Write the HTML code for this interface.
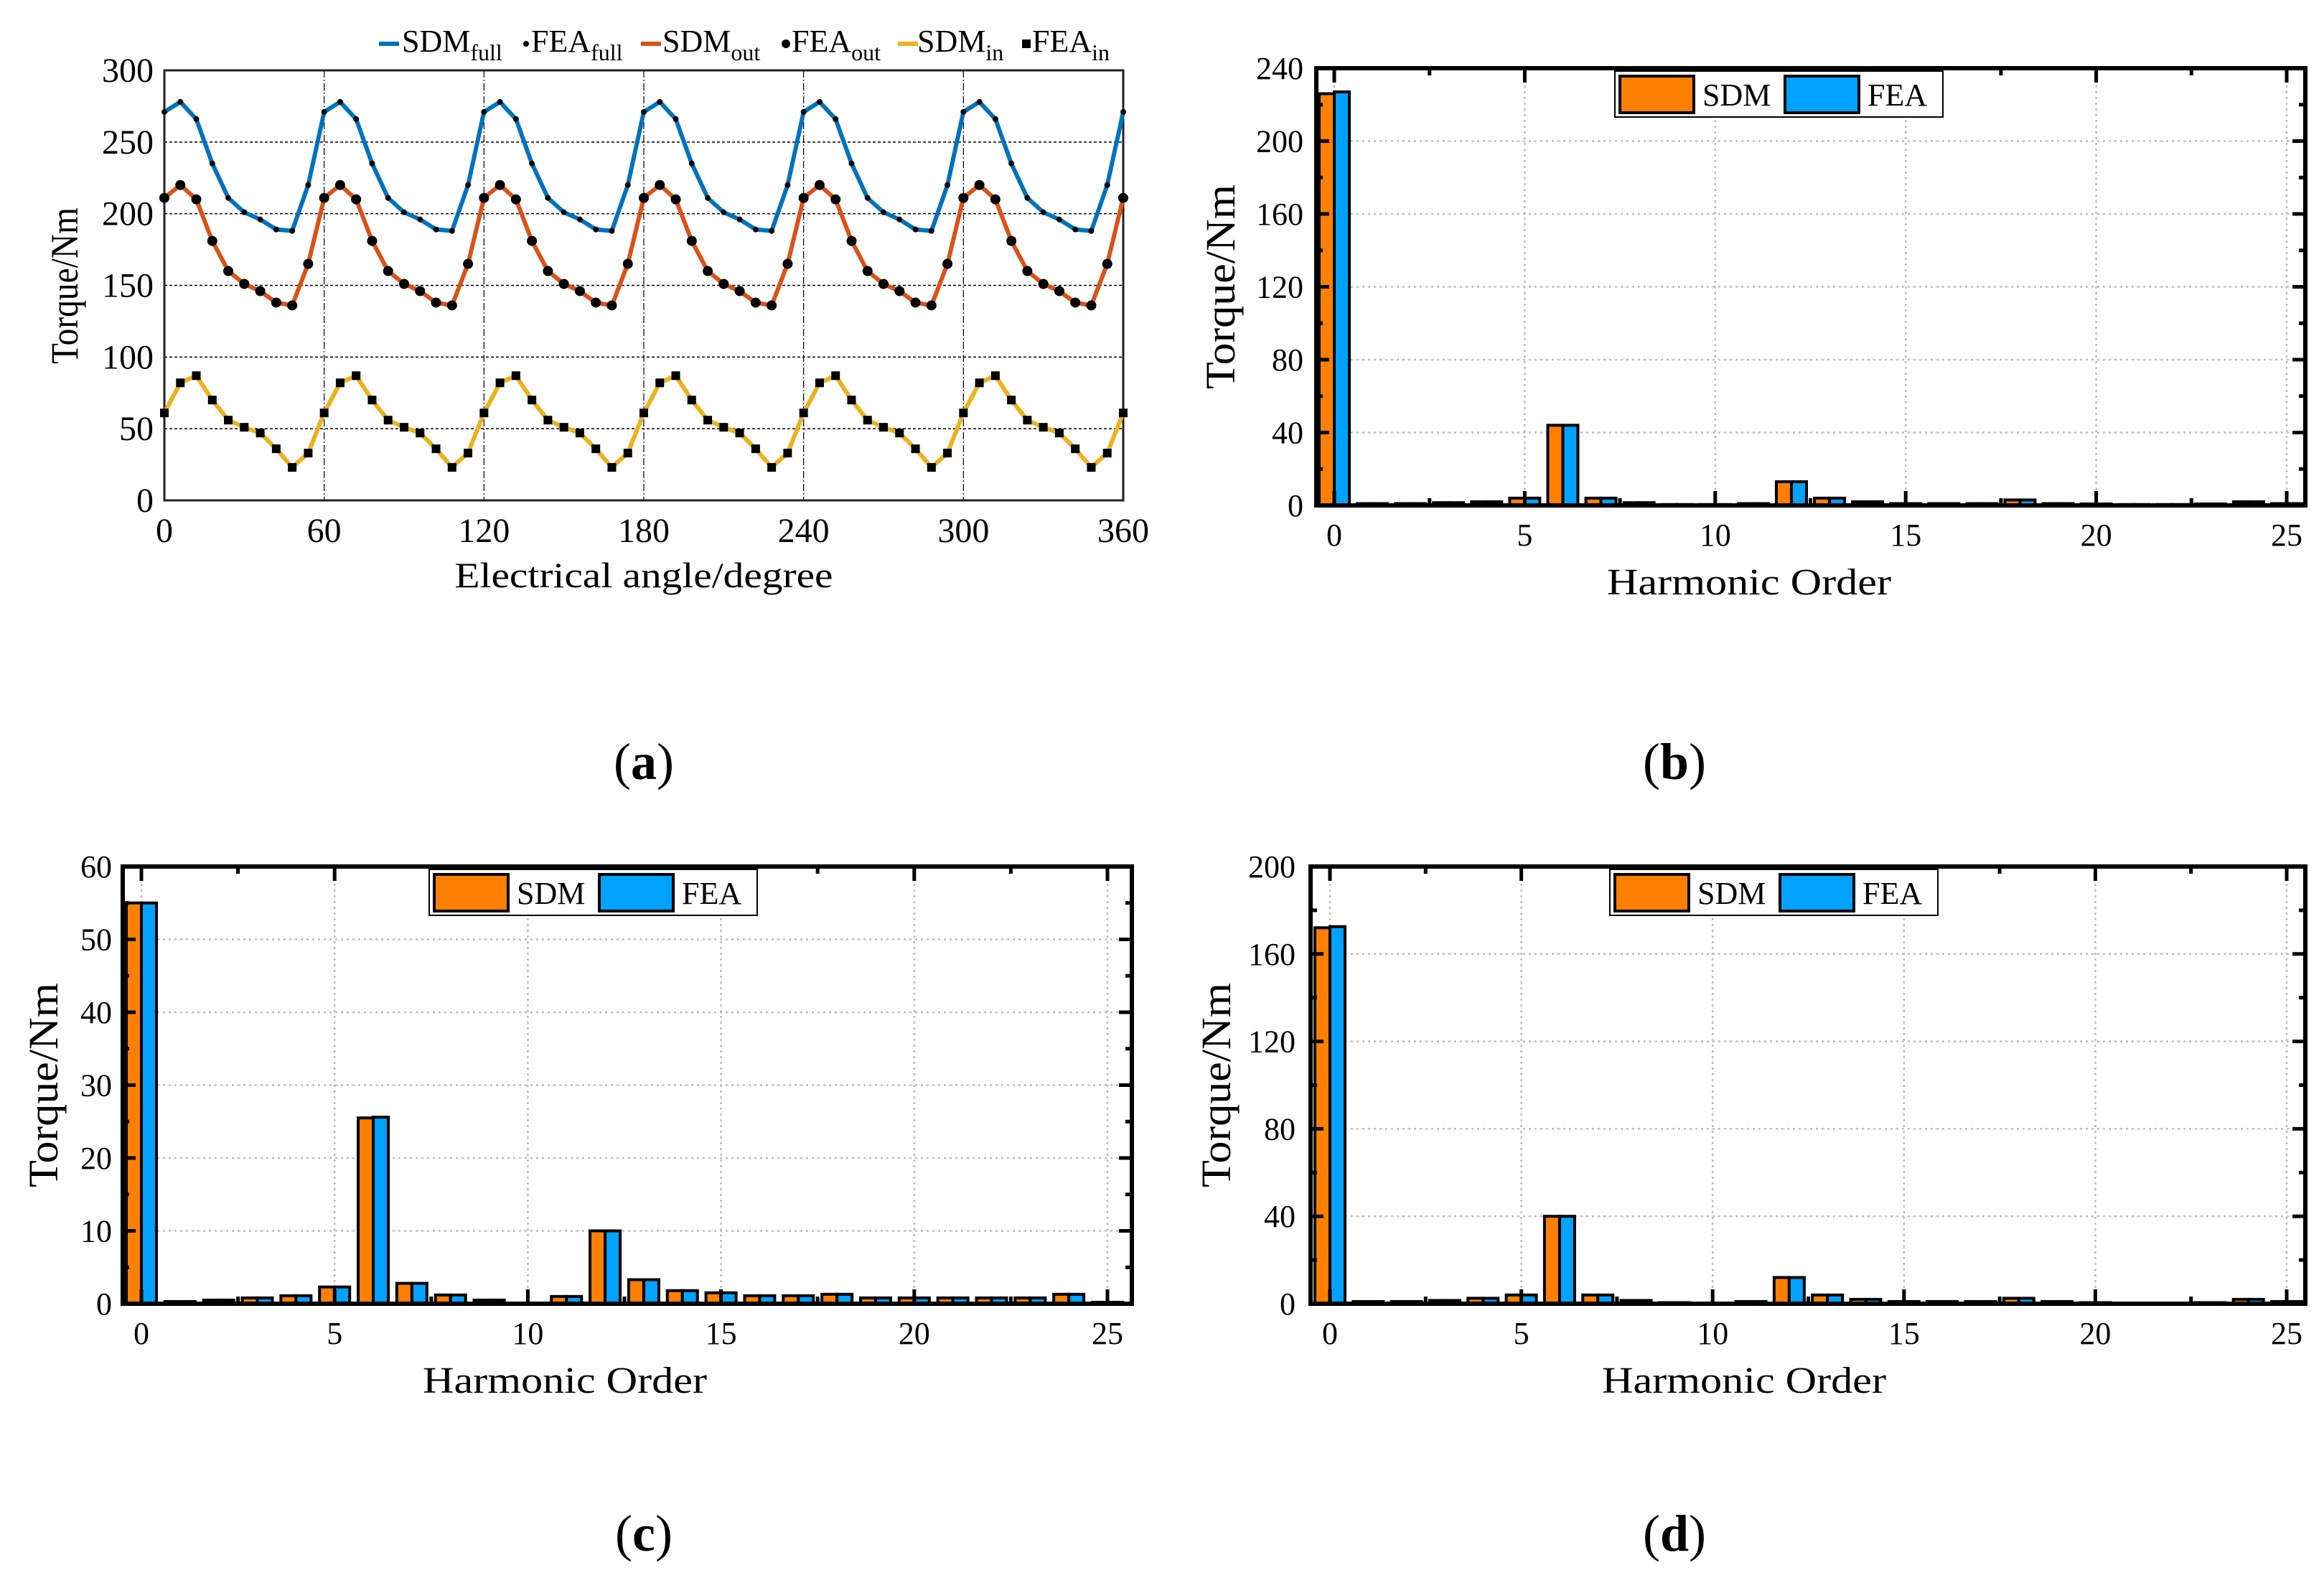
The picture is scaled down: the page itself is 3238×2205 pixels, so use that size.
<!DOCTYPE html>
<html><head><meta charset="utf-8"><style>
html,body{margin:0;padding:0;background:#fff;}
svg{display:block;font-family:"Liberation Serif",serif;}
</style></head><body>
<svg id="fig" width="3238" height="2205" viewBox="0 0 3238 2205" xmlns="http://www.w3.org/2000/svg"></svg>
<script>
// ---- Panel (a) data: torque vs electrical angle (one 60° period, 6° steps, repeated 6 times) ----
const angleTicks = [0, 60, 120, 180, 240, 300, 360];
const torqueTicksA = [0, 50, 100, 150, 200, 250, 300];
const fullPeriod = [271, 278, 266, 235, 211, 201, 196, 189, 188, 220];
const outPeriod = [211, 220, 210, 181, 160, 151, 146, 138, 136, 165];
const inPeriod = [61, 82, 87, 70, 56, 51, 47, 36, 23, 33];
// ---- Harmonic spectra ----
const harmonicOrders = [0,1,2,3,4,5,6,7,8,9,10,11,12,13,14,15,16,17,18,19,20,21,22,23,24,25];
const harmonicTicks = [0, 5, 10, 15, 20, 25];
const sdmB = [226,1,1,1.5,2,4,44,4,1.5,0.5,0.5,1,13,4,2,1,1,1,3,1,0.8,0.5,0.5,0.8,2,1];
const feaB = [227,1,1,1.5,2,4,44,4,1.5,0.5,0.5,1,13,4,2,1,1,1,3,1,0.8,0.5,0.5,0.8,2,1];
const sdmC = [55,0.3,0.5,0.8,1.1,2.3,25.5,2.8,1.2,0.5,0.1,1,10,3.3,1.8,1.5,1.1,1.1,1.3,0.8,0.8,0.8,0.8,0.8,1.3,0.2];
const feaC = [55,0.3,0.5,0.8,1.1,2.3,25.6,2.8,1.2,0.5,0.1,1,10,3.3,1.8,1.5,1.1,1.1,1.3,0.8,0.8,0.8,0.8,0.8,1.3,0.2];
const sdmD = [172,1,1,1.5,2.5,4,40,4,1.5,0.5,0.3,1,12,4,2,1,1,1,2.5,1,0.5,0.3,0.3,0.5,2,1];
const feaD = [172.5,1,1,1.5,2.5,4,40,4,1.5,0.5,0.3,1,12,4,2,1,1,1,2.5,1,0.5,0.3,0.3,0.5,2,1];
const ticksB = [0,40,80,120,160,200,240];
const ticksC = [0,10,20,30,40,50,60];
const ticksD = [0,40,80,120,160,200];

const NS = "http://www.w3.org/2000/svg";
const svg = document.getElementById('fig');
function mk(tag, attrs, parent){
  const e = document.createElementNS(NS, tag);
  for (const k in attrs) e.setAttribute(k, attrs[k]);
  (parent||svg).appendChild(e);
  return e;
}
function txt(s, x, y, size, anchor, parent, extra){
  const t = mk('text', Object.assign({x:x, y:y, 'font-size':size, 'text-anchor':anchor||'middle', fill:'#000'}, extra||{}), parent);
  t.textContent = s;
  return t;
}

// ================= Panel (a) =================
(function(){
  const g = mk('g', {});
  
  
  const L=229, R=1565, T=98, B=697;
  const xs = v => L + (v/360)*(R-L);
  const ys = v => B - (v/300)*(B-T);
  torqueTicksA.forEach(v=>{ if(v>0&&v<300){ const l=mk('line',{x1:L,x2:R,y1:ys(v),y2:ys(v),stroke:'#000','stroke-width':1.5,'stroke-dasharray':'4,3'},g);   }});
  angleTicks.forEach(v=>{ if(v>0&&v<360){ const l=mk('line',{x1:xs(v),x2:xs(v),y1:T,y2:B,stroke:'#000','stroke-width':1.2,'stroke-dasharray':'10,3,2,3'},g);   }});
  const frame = mk('rect',{x:L,y:T,width:R-L,height:B-T,fill:'none',stroke:'#222','stroke-width':3},g);
   
  torqueTicksA.forEach(v=>{ const t=txt(String(v), 214, ys(v)+16, 48, 'end', g);   });
  angleTicks.forEach(v=>{ const t=txt(String(v), xs(v), 755, 48, 'middle', g);   });
  const xt = txt('Electrical angle/degree', 897, 818, 50, 'middle', g, {textLength:527, lengthAdjust:'spacingAndGlyphs'});
   
  const yt = txt('Torque/Nm', 0, 0, 54, 'middle', g, {transform:'translate(108,398) rotate(-90)', textLength:218, lengthAdjust:'spacingAndGlyphs'});
   
  const lab = txt('', 897, 1085, 72, 'middle', g);
  lab.innerHTML = '(<tspan font-weight="bold">a</tspan>)';
   

  const series = [
    {vals: fullPeriod, color:'#0072BD', marker:'dot', name:'full'},
    {vals: outPeriod, color:'#D95319', marker:'ring', name:'out'},
    {vals: inPeriod, color:'#EDB120', marker:'square', name:'in'}
  ];
  series.forEach(s=>{
    const pts = [];
    for (let i=0;i<=60;i++){ pts.push([i*6, s.vals[i%10]]); }
    const d = pts.map((p,i)=>(i?'L':'M')+xs(p[0]).toFixed(1)+','+ys(p[1]).toFixed(1)).join(' ');
    const path = mk('path',{d:d,fill:'none',stroke:s.color,'stroke-width':6,'stroke-linejoin':'round'},g);
     
    pts.forEach(p=>{
      let m;
      if (s.marker==='dot') m = mk('circle',{cx:xs(p[0]),cy:ys(p[1]),r:4,fill:'#000'},g);
      else if (s.marker==='ring') m = mk('circle',{cx:xs(p[0]),cy:ys(p[1]),r:6.5,fill:'#000',stroke:'#000','stroke-width':1},g);
      else m = mk('rect',{x:xs(p[0])-6,y:ys(p[1])-6,width:12,height:12,fill:'#000'},g);
       
    });
  });
  const leg = mk('g',{},g);
   
  const items = [
    {type:'line',color:'#0072BD',x:528,main:'SDM',sub:'full',tx:560},
    {type:'dot',x:729,main:'FEA',sub:'full',tx:740},
    {type:'line',color:'#D95319',x:893,main:'SDM',sub:'out',tx:923},
    {type:'ring',x:1091,main:'FEA',sub:'out',tx:1103},
    {type:'line',color:'#EDB120',x:1251,main:'SDM',sub:'in',tx:1278},
    {type:'square',x:1426,main:'FEA',sub:'in',tx:1438}
  ];
  items.forEach(it=>{
    const e = mk('g',{},leg);
     
    if (it.type==='line') mk('rect',{x:it.x,y:58,width:28,height:6,fill:it.color},e);
    else if (it.type==='dot') mk('circle',{cx:it.x+4,cy:61,r:4,fill:'#000'},e);
    else if (it.type==='ring') mk('circle',{cx:it.x+4,cy:61,r:6,fill:'#000'},e);
    else mk('rect',{x:it.x-2,y:55,width:12,height:12,fill:'#000'},e);
    const t = txt('', it.tx, 72, 44, 'start', e);
    t.innerHTML = it.main + '<tspan font-size="32" dy="12">'+it.sub+'</tspan>';
  });
})();

// ================= Bar panels =================
function barPanel(cfg){
  const g = mk('g', {});
  
  
  const {L,R,T,B,x0,x25,ymax} = cfg;
  const xs = v => x0 + v*(x25-x0)/25;
  const ys = v => B - (v/ymax)*(B-T);
  const clipId = cfg.name+'-clip';
  const cp = mk('clipPath',{id:clipId},g);
  mk('rect',{x:L,y:T,width:R-L,height:B-T},cp);
  cfg.ticks.forEach(v=>{ if(v>0&&v<ymax){ const l=mk('line',{x1:L,x2:R,y1:ys(v),y2:ys(v),stroke:'#bbb','stroke-width':2.5,'stroke-dasharray':'3,5'},g);   }});
  harmonicTicks.forEach(v=>{ const l=mk('line',{x1:xs(v),x2:xs(v),y1:T,y2:B,stroke:'#bbb','stroke-width':2.5,'stroke-dasharray':'3,5'},g);   });
  const bw = 21;
  const bars = mk('g',{'clip-path':'url(#'+clipId+')'},g);
  harmonicOrders.forEach((h,i)=>{
    const b1 = mk('rect',{x:xs(h)-bw,y:ys(cfg.sdm[i]),width:bw,height:B-ys(cfg.sdm[i]),fill:'#FF8000',stroke:'#000','stroke-width':4},bars);
     
    const b2 = mk('rect',{x:xs(h),y:ys(cfg.fea[i]),width:bw,height:B-ys(cfg.fea[i]),fill:'#00A2FF',stroke:'#000','stroke-width':4},bars);
     
  });
  const tk = mk('g',{stroke:'#000','stroke-width':5},g);
  harmonicTicks.forEach(v=>{
    mk('line',{x1:xs(v),x2:xs(v),y1:T,y2:T+20},tk);
    mk('line',{x1:xs(v),x2:xs(v),y1:B,y2:B-20},tk);
  });
  for (let v=2.5; v<25; v+=5){ mk('line',{x1:xs(v),x2:xs(v),y1:T,y2:T+10},tk); mk('line',{x1:xs(v),x2:xs(v),y1:B,y2:B-10},tk); }
  const step = cfg.ticks[1]-cfg.ticks[0];
  for (let v=0; v<=ymax+1e-9; v+=step/2){
    const len = (Math.round(v/step*2)%2===0)?18:9;
    mk('line',{x1:L,x2:L+len,y1:ys(v),y2:ys(v)},tk);
    mk('line',{x1:R,x2:R-len,y1:ys(v),y2:ys(v)},tk);
  }
  const frame = mk('rect',{x:L,y:T,width:R-L,height:B-T,fill:'none',stroke:'#000','stroke-width':6},g);
   
  cfg.ticks.forEach(v=>{ const t=txt(String(v), cfg.ylx, ys(v)+15, 44, 'end', g);   });
  harmonicTicks.forEach(v=>{ const t=txt(String(v), xs(v), B+56, 44, 'middle', g);   });
  const xt = txt('Harmonic Order', cfg.xtx, B+124, 52, 'middle', g, {textLength:396, lengthAdjust:'spacingAndGlyphs'});
   
  const yt = txt('Torque/Nm', 0, 0, 58, 'middle', g, {transform:'translate('+cfg.ytx+','+((T+B)/2)+') rotate(-90)', textLength:285, lengthAdjust:'spacingAndGlyphs'});
   
  const lg = mk('g',{},g);
   
  const lx = cfg.legX, ly = T+4;
  mk('rect',{x:lx,y:ly,width:457,height:64,fill:'#fff',stroke:'#000','stroke-width':2},lg);
  const e1 = mk('g',{},lg);  
  mk('rect',{x:lx+7,y:ly+7,width:103,height:51,fill:'#FF8000',stroke:'#000','stroke-width':4},e1);
  txt('SDM', lx+122, ly+48, 44, 'start', e1);
  const e2 = mk('g',{},lg);  
  mk('rect',{x:lx+237,y:ly+7,width:103,height:51,fill:'#00A2FF',stroke:'#000','stroke-width':4},e2);
  txt('FEA', lx+352, ly+48, 44, 'start', e2);
  const lab = txt('', cfg.labX, cfg.labY, 72, 'middle', g);
  lab.innerHTML = '(<tspan font-weight="bold">'+cfg.letter+'</tspan>)';
   
}
barPanel({name:'panel-b-harmonics-full', L:1834,R:3212,T:95,B:704,x0:1859,x25:3186,ymax:240,ticks:ticksB,sdm:sdmB,fea:feaB,ylx:1816,xtx:2437,ytx:1720,legX:2250,labX:2333,labY:1085,letter:'b'});
barPanel({name:'panel-c-harmonics-inner', L:171,R:1577,T:1207,B:1816,x0:197,x25:1543,ymax:60,ticks:ticksC,sdm:sdmC,fea:feaC,ylx:156,xtx:787,ytx:80,legX:598,labX:897,labY:2160,letter:'c'});
barPanel({name:'panel-d-harmonics-outer', L:1826,R:3212,T:1207,B:1816,x0:1853,x25:3186,ymax:200,ticks:ticksD,sdm:sdmD,fea:feaD,ylx:1805,xtx:2430,ytx:1714,legX:2243,labX:2333,labY:2160,letter:'d'});
</script>
</body></html>
